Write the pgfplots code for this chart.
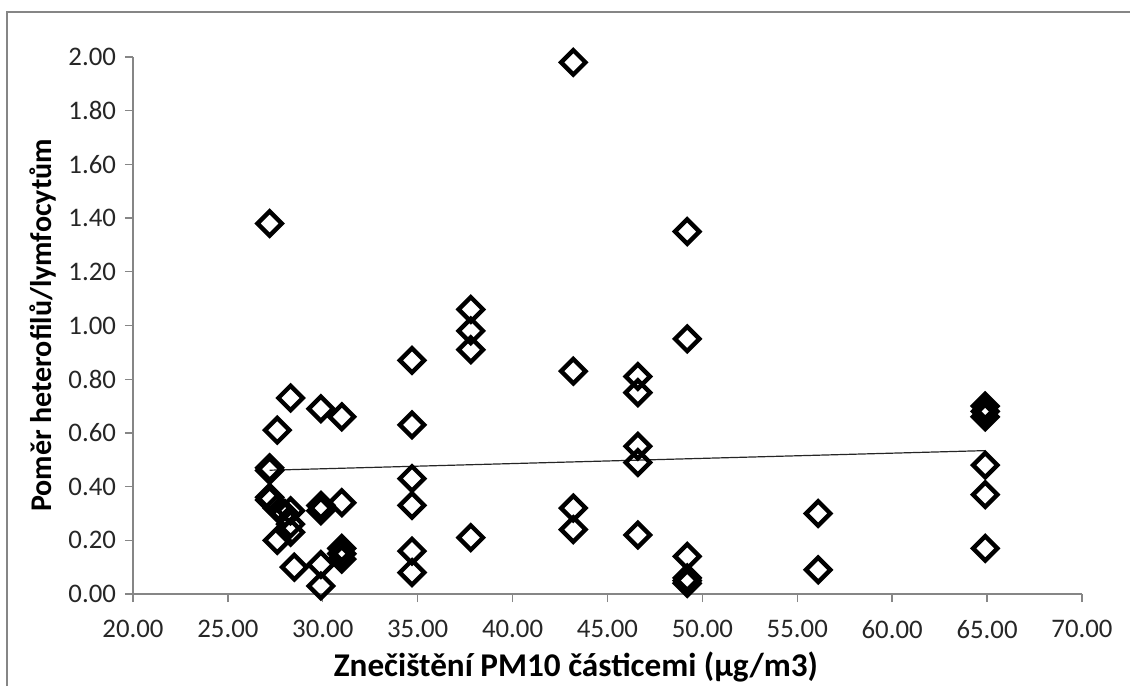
\documentclass[border=0pt]{standalone}
\usepackage{fontspec}
\setmainfont{Carlito}
\usepackage{pgfplots}
\pgfplotsset{compat=1.18}
\definecolor{axgray}{RGB}{134,134,134}
\begin{document}
\begin{tikzpicture}
\begin{axis}[
  at={(0,0)}, anchor=south west,
  scale only axis,
  width=474.5pt, height=268.5pt,
  xmin=20, xmax=70, ymin=0, ymax=2,
  axis x line=bottom, axis y line=left,
  axis line style={draw=axgray, line width=0.7pt, -},
  xtick={20,25,...,70}, ytick={0,0.2,...,2.01},
  tick align=outside, major tick length=4pt,
  tick style={draw=axgray, line width=0.7pt},
  /pgf/number format/assume math mode=true,
  /pgf/number format/.cd, fixed, fixed zerofill, precision=2, /pgfplots/.cd,
  ticklabel style={font=\fontsize{13.4}{15}\selectfont, text=black!85},
  xticklabel style={yshift=-5.5pt},
  yticklabel style={xshift=-1pt},
  xlabel={Znečištění PM10 částicemi (µg/m3)},
  ylabel={Poměr heterofilů/lymfocytům},
  xlabel style={font=\fontsize{16.6}{18}\selectfont\bfseries, at={(axis description cs:0.4668,-0.136)}, anchor=center},
  ylabel style={font=\fontsize{15}{17}\selectfont\bfseries, at={(axis description cs:-0.0948,0.5)}, anchor=center, rotate=0},
  clip=false,
]
\addplot[no marks, draw=black!85, line width=0.6pt] coordinates {(27.2,0.461) (64.9,0.534)};
\addplot[only marks, mark=square, mark size=4.3pt,
  mark options={rotate=45, draw=black, fill=none, line width=2.2pt}]
  table[row sep=\\] {
x y\\
27.2 1.38\\
27.2 0.47\\
27.2 0.46\\
27.2 0.36\\
27.2 0.35\\
27.6 0.61\\
28.3 0.73\\
27.6 0.32\\
28.0 0.30\\
28.3 0.31\\
28.3 0.26\\
28.3 0.23\\
27.6 0.20\\
28.5 0.10\\
29.9 0.69\\
29.9 0.33\\
29.9 0.31\\
29.9 0.11\\
29.9 0.03\\
31.0 0.66\\
31.0 0.34\\
31.0 0.17\\
31.0 0.15\\
31.0 0.13\\
34.7 0.87\\
34.7 0.63\\
34.7 0.43\\
34.7 0.33\\
34.7 0.16\\
34.7 0.08\\
37.8 1.06\\
37.8 0.98\\
37.8 0.91\\
37.8 0.21\\
43.2 1.98\\
43.2 0.83\\
43.2 0.32\\
43.2 0.24\\
46.6 0.81\\
46.6 0.75\\
46.6 0.55\\
46.6 0.49\\
46.6 0.22\\
49.2 1.35\\
49.2 0.95\\
49.2 0.14\\
49.2 0.06\\
49.2 0.05\\
49.2 0.04\\
56.1 0.30\\
56.1 0.09\\
64.9 0.70\\
64.9 0.68\\
64.9 0.66\\
64.9 0.48\\
64.9 0.37\\
64.9 0.17\\
};
\end{axis}
\draw[axgray, line width=0.8pt] (-63pt,-46pt) -- (-63pt,291pt) -- (498.5pt,291pt);
\pgfresetboundingbox
\path[use as bounding box] (-66.5pt,-46pt) rectangle (498.5pt,297pt);
\end{tikzpicture}
\end{document}
